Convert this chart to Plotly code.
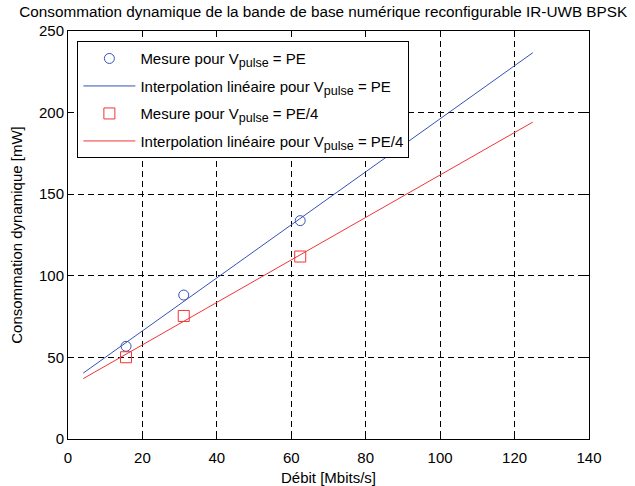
import plotly.graph_objects as go

# Data
debit_mesure = [15.6, 31.1, 62.4]
conso_pe = [56.8, 88.2, 133.8]
conso_pe4 = [50.1, 75.4, 111.8]
debit_interp = [4.1, 124.9]
interp_pe = [40.4, 236.7]
interp_pe4 = [37.0, 194.2]

x_ticks = [0, 20, 40, 60, 80, 100, 120, 140]
y_ticks = [0, 50, 100, 150, 200, 250]

BLUE = "#3552b8"
RED = "#f03535"
FONT = "Liberation Sans, Arial, sans-serif"
SUB = "<sub><span style='font-size:12.5px'>pulse</span></sub>"

fig = go.Figure()
fig.add_trace(go.Scatter(x=debit_mesure, y=conso_pe, mode="markers",
                         name="Mesure pour V" + SUB + " = PE", legendgroup="a",
                         marker=dict(symbol="circle-open", size=10, color=BLUE, line=dict(width=1))))
fig.add_trace(go.Scatter(x=debit_interp, y=interp_pe, mode="lines",
                         name="Interpolation linéaire pour V" + SUB + " = PE", legendgroup="b",
                         line=dict(color=BLUE, width=1)))
fig.add_trace(go.Scatter(x=debit_mesure, y=conso_pe4, mode="markers",
                         name="Mesure pour V" + SUB + " = PE/4", legendgroup="c",
                         marker=dict(symbol="square-open", size=11, color=RED, line=dict(width=1))))
fig.add_trace(go.Scatter(x=debit_interp, y=interp_pe4, mode="lines",
                         name="Interpolation linéaire pour V" + SUB + " = PE/4", legendgroup="d",
                         line=dict(color=RED, width=1)))

axis_common = dict(showgrid=True, gridcolor="black", gridwidth=1, griddash="6px,4px",
                   zeroline=False, showline=True, linecolor="black", linewidth=1,
                   mirror="allticks", ticks="inside", ticklen=5, tickcolor="black",
                   tickfont=dict(family=FONT, size=15, color="black"))

fig.update_layout(
    width=635, height=486,
    margin=dict(l=67.5, r=46, t=31, b=47),
    paper_bgcolor="white", plot_bgcolor="white",
    font=dict(family=FONT, size=15, color="black"),
    title=dict(text="Consommation dynamique de la bande de base numérique reconfigurable IR-UWB BPSK",
               x=0.509, xref="container", xanchor="center",
               y=0.977, yref="container", yanchor="middle",
               font=dict(family=FONT, size=15.3, color="black")),
    xaxis=dict(range=[0, 140], tickvals=x_ticks, ticktext=[str(v) for v in x_ticks],
               ticklabelstandoff=5, automargin=False,
               title=dict(text="Débit [Mbits/s]", font=dict(family=FONT, size=15)),
               **axis_common),
    yaxis=dict(range=[0, 250], tickvals=y_ticks, ticktext=[str(v) for v in y_ticks],
               automargin=True,
               title=dict(text="Consommation dynamique [mW]", standoff=12, font=dict(family=FONT, size=15)),
               **axis_common),
    legend=dict(x=0.018, y=0.975, xanchor="left", yanchor="top",
                bgcolor="white", bordercolor="black", borderwidth=1,
                font=dict(family=FONT, size=15, color="black"),
                tracegroupgap=5, itemwidth=52),
    showlegend=True,
)

fig.write_html("out.html", config={"displayModeBar": False},
               post_script="document.body.style.margin='0px';")
